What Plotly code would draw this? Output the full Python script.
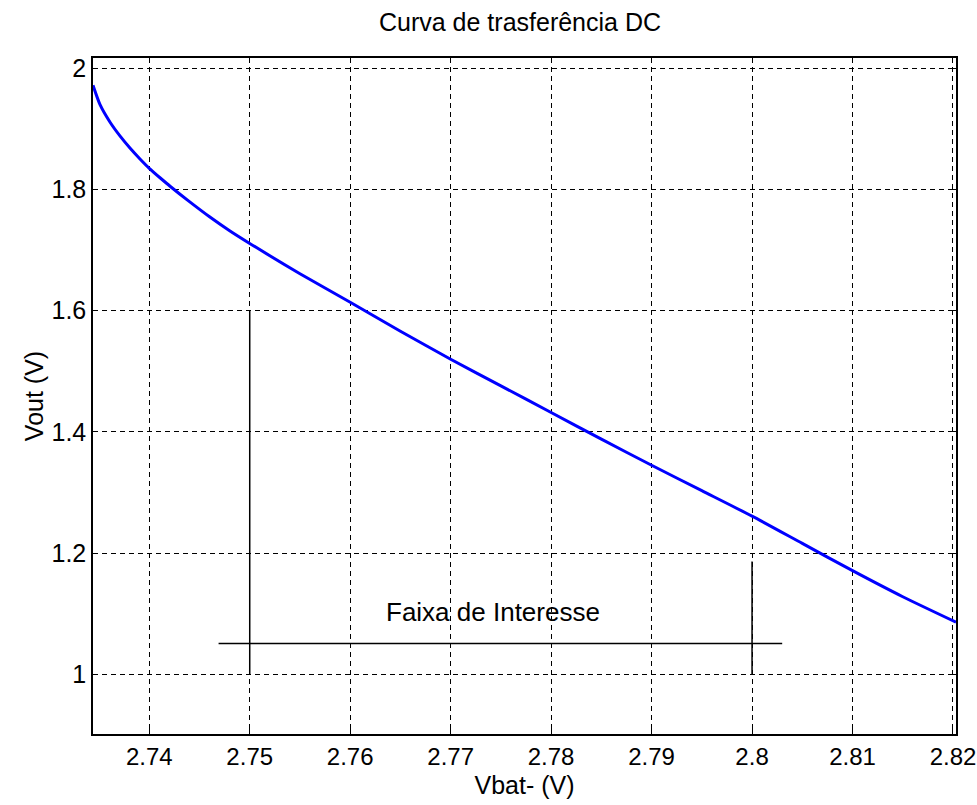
import plotly.graph_objects as go

# Curve data
vbat = [2.7344, 2.7351, 2.7361, 2.7371, 2.7381, 2.7391, 2.7400, 2.7411, 2.7421,
        2.7440, 2.7460, 2.7480, 2.7500, 2.7550, 2.7600, 2.7650, 2.7700, 2.7750,
        2.7800, 2.7850, 2.7900, 2.7950, 2.8000, 2.8050, 2.8100, 2.8150, 2.8203]
vout = [1.972, 1.940, 1.911, 1.888, 1.868, 1.850, 1.835, 1.819, 1.805,
        1.780, 1.755, 1.732, 1.711, 1.661, 1.614, 1.566, 1.520, 1.476,
        1.432, 1.388, 1.345, 1.303, 1.261, 1.216, 1.171, 1.128, 1.086]

x_ticks = [2.74, 2.75, 2.76, 2.77, 2.78, 2.79, 2.80, 2.81, 2.82]
x_tick_labels = ["2.74", "2.75", "2.76", "2.77", "2.78", "2.79", "2.8", "2.81", "2.82"]
y_ticks = [1.0, 1.2, 1.4, 1.6, 1.8, 2.0]
y_tick_labels = ["1", "1.2", "1.4", "1.6", "1.8", "2"]

# "Faixa de Interesse" marker lines
band_left = 2.75
band_right = 2.80
band_left_top = 1.6
band_right_top = 1.186
band_bottom = 1.0
band_line_y = 1.051
band_line_x0 = 2.7469
band_line_x1 = 2.8030
band_label = "Faixa de Interesse"
band_label_x = 2.7742
band_label_y = 1.103

x_range = [2.7344, 2.8203]
y_range = [0.9015, 2.017]

FONT = "Liberation Sans, Arial, sans-serif"
FS = 25

fig = go.Figure()
fig.add_trace(go.Scatter(x=vbat, y=vout, mode="lines",
                         line=dict(color="#0000ff", width=3, shape="spline", smoothing=0.6),
                         showlegend=False, hoverinfo="skip"))

line_style = dict(color="black", width=1.5)
fig.add_shape(type="line", x0=band_left, x1=band_left, y0=band_bottom, y1=band_left_top,
              xref="x", yref="y", line=line_style)
fig.add_shape(type="line", x0=band_right, x1=band_right, y0=band_bottom, y1=band_right_top,
              xref="x", yref="y", line=line_style)
fig.add_shape(type="line", x0=band_line_x0, x1=band_line_x1, y0=band_line_y, y1=band_line_y,
              xref="x", yref="y", line=line_style)
fig.add_annotation(x=band_label_x, y=band_label_y, text=band_label, showarrow=False,
                   xref="x", yref="y", font=dict(family=FONT, size=26, color="black"))

axis_common = dict(
    showgrid=True, gridcolor="black", gridwidth=1, griddash="5px,4px",
    showline=True, linecolor="black", linewidth=1.5, mirror="ticks",
    ticks="inside", ticklen=5, tickcolor="black", tickwidth=1,
    zeroline=False, automargin=False, ticklabeloverflow="allow",
)

fig.update_xaxes(range=x_range, tickvals=x_ticks, ticktext=x_tick_labels,
                 tickfont=dict(family=FONT, size=24, color="black"),
                 title=dict(text="Vbat- (V)", font=dict(family=FONT, size=FS, color="black"),
                            standoff=8),
                 **axis_common)
fig.update_yaxes(range=y_range, tickvals=y_ticks, ticktext=y_tick_labels,
                 tickfont=dict(family=FONT, size=FS, color="black"),
                 title=dict(text="Vout (V)", font=dict(family=FONT, size=FS, color="black"),
                            standoff=1),
                 **axis_common)

W, H = 977, 805
fig.update_layout(
    width=W, height=H,
    margin=dict(l=93, r=21, t=58, b=71),
    paper_bgcolor="white", plot_bgcolor="white",
    title=dict(text="Curva de trasferência DC", x=520 / W, xanchor="center",
               y=1 - 22 / H, yanchor="middle",
               font=dict(family=FONT, size=FS, color="black")),
)

fig.write_html(
    "out.html",
    config={"displayModeBar": False},
    post_script="document.body.style.margin='0';document.body.style.overflow='hidden';",
)
